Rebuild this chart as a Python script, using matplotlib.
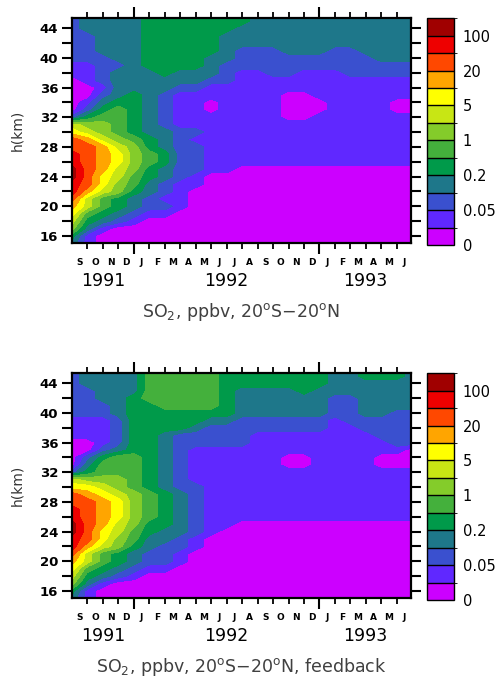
import numpy as np
import matplotlib
matplotlib.use('Agg')
import matplotlib.pyplot as plt
from matplotlib.colors import ListedColormap, BoundaryNorm
from matplotlib.cm import ScalarMappable

# SO2 mixing ratio classes (ppbv); class k lies between levels[k] and levels[k+1]
levels = [0, 0.02, 0.05, 0.1, 0.2, 0.5, 1, 2, 5, 10, 20, 50, 100, 200]
band_colors = ['#cc00ff', '#6028ff', '#3a50cf', '#1e778a', '#009a4a', '#44b03c',
               '#84cc2a', '#c8e614', '#ffff00', '#ffa500', '#ff4800', '#ee0000',
               '#a00000']

month_letters = ['S', 'O', 'N', 'D', 'J', 'F', 'M', 'A', 'M', 'J', 'J',
                 'A', 'S', 'O', 'N', 'D', 'J', 'F', 'M', 'A', 'M', 'J']
years = ['1991', '1992', '1993']

# grid: months since 1 Sep 1991 (columns), height in km (rows, top row = 46 km)
months = np.arange(0, 23)
heights = np.arange(46, 14, -1)

# class index (hex digit), one string per km
so2_control = [
    "23333444444433333333333",
    "23333444444433333333333",
    "23333444444333333333333",
    "22333444443333333333333",
    "22333444443333333333333",
    "22333444443222333223333",
    "22233444433222222222333",
    "11223444432222222222222",
    "11233343332112211122222",
    "01233333322111111111111",
    "00133332211111111111111",
    "00234321111111001111111",
    "01344321101111000111100",
    "02454321101111000111100",
    "24554321111111001111111",
    "76654321111111111111111",
    "87654332211111111111111",
    "a9765432111111111111111",
    "aa976432211111111111111",
    "ba986542211111111111111",
    "ba986542211111111111111",
    "ca976432211000000000000",
    "ca875432100000000000000",
    "ba865321100000000000000",
    "b9764321000000000000000",
    "a7543211000000000000000",
    "97543221000000000000000",
    "85432110000000000000000",
    "74321000000000000000000",
    "63100000000000000000000",
    "41000000000000000000000",
    "31000000000000000000000",
]

so2_feedback = [
    "23333555554444444334443",
    "23333555554444444334443",
    "23333555554444444333333",
    "22333555554333343333333",
    "22334555554333333223333",
    "22234455554333333223333",
    "22234444444333333223322",
    "11124444433222222122222",
    "11124444322222222112222",
    "11124432222211111111222",
    "00124432222211111111122",
    "00234432111111111111110",
    "02455432111111001111000",
    "03555432111111001111000",
    "24555432111111111111111",
    "76665432111111111111111",
    "88765432211111111111111",
    "a9876543211111111111111",
    "aa986543211111111111111",
    "ba986543211111111111111",
    "ba986543211111111111111",
    "ca976443211000000000000",
    "ca875433210000000000000",
    "ba865332100000000000000",
    "b9764322100000000000000",
    "a7543221000000000000000",
    "97543221000000000000000",
    "85432110000000000000000",
    "74321000000000000000000",
    "63100000000000000000000",
    "41000000000000000000000",
    "31000000000000000000000",
]

W, H = 495, 679
fig = plt.figure(figsize=(W / 100, H / 100), dpi=100)


def rect(l, t, r, b):
    return [l / W, 1 - b / H, (r - l) / W, (b - t) / H]


def draw_panel(rows, title, top):
    ax = fig.add_axes(rect(72, top, 410.7, top + 225))
    cax = fig.add_axes(rect(427.3, top, 454.3, top + 226.7))

    band = np.array([[int(c, 16) for c in row] for row in rows])
    ax.contourf(months, heights[::-1], band[::-1],
                levels=np.arange(-0.5, len(band_colors)), colors=band_colors)

    ax.set_xlim(0, 21.9)
    ax.set_ylim(15, 45.35)
    for sp in ax.spines.values():
        sp.set_linewidth(1.6)

    ax.set_yticks(np.arange(16, 45, 4))
    ax.set_yticks(np.arange(18, 45, 4), minor=True)
    ax.tick_params(axis='y', which='both', direction='out', length=7, width=1.5,
                   right=True, labelsize=9.5, pad=3)
    for lab in ax.get_yticklabels():
        lab.set_fontweight('bold')
    ax.set_ylabel('h(km)', fontsize=10, color='#333333')
    ax.yaxis.set_label_coords(-0.14, 0.5)

    jan = [i for i, m in enumerate(month_letters) if m == 'J' and month_letters[i - 1] == 'D']
    ax.set_xticks(jan)
    ax.set_xticks(np.arange(1, len(month_letters)), minor=True)
    ax.tick_params(axis='x', which='major', direction='out', length=8, width=1.5,
                   top=True, labelbottom=False)
    ax.tick_params(axis='x', which='minor', direction='out', length=4, width=1.3,
                   top=True)

    tr = ax.get_xaxis_transform()
    for i, m in enumerate(month_letters):
        ax.text(i + 0.5, -19 / 225, m, transform=tr, ha='center', va='center',
                fontsize=6.5, fontweight='bold')
    edges = [0] + jan + [21.9]
    for k, yr in enumerate(years):
        ax.text((edges[k] + edges[k + 1]) / 2, -38 / 225, yr, transform=tr,
                ha='center', va='center', fontsize=12.5)
    ax.text(0.5, -74 / 225, title, transform=ax.transAxes, ha='center',
            va='baseline', fontsize=12.5, color='#404040')

    sm = ScalarMappable(norm=BoundaryNorm(np.arange(len(band_colors) + 1), len(band_colors)),
                        cmap=ListedColormap(band_colors))
    cb = fig.colorbar(sm, cax=cax, drawedges=True,
                      ticks=np.arange(0, len(band_colors) + 1, 2))
    cb.set_ticklabels(['%g' % v for v in levels[::2]])
    cb.outline.set_linewidth(1.0)
    cb.dividers.set_linewidth(1.0)
    cax.tick_params(length=0, labelsize=10.5, pad=6)


draw_panel(so2_control, 'SO$_2$, ppbv, 20$^{\\rm o}$S\u221220$^{\\rm o}$N', 18.3)
draw_panel(so2_feedback, 'SO$_2$, ppbv, 20$^{\\rm o}$S\u221220$^{\\rm o}$N, feedback', 373.3)

fig.savefig('out.png', dpi=100)
